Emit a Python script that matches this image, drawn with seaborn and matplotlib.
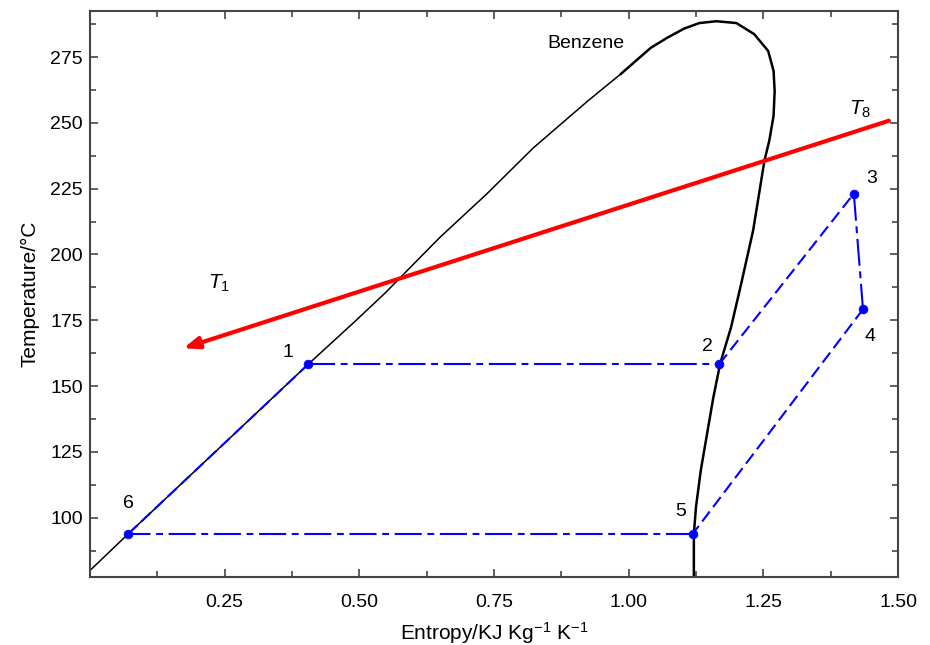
import matplotlib
matplotlib.use("Agg")
import matplotlib.pyplot as plt
import seaborn as sns
import pandas as pd
import numpy as np

# saturation dome of benzene
liquid_s = [0.0, 0.071, 0.405, 0.494, 0.547, 0.649, 0.737, 0.823, 0.924, 0.985]
liquid_t = [80.0, 93.9, 158.3, 175.0, 185.2, 206.4, 223.1, 240.5, 258.3, 268.5]
vapour_s = [0.985, 1.041, 1.073, 1.103, 1.131, 1.163, 1.200, 1.233, 1.259, 1.269,
            1.271, 1.269, 1.261, 1.252, 1.231, 1.209, 1.190, 1.170, 1.157, 1.134,
            1.125, 1.121, 1.121]
vapour_t = [268.5, 278.5, 282.5, 285.8, 287.9, 288.6, 287.9, 283.7, 277.3, 269.7,
            262.1, 252.7, 243.2, 235.6, 209.1, 189.0, 172.3, 158.7, 145.5, 118.2,
            104.2, 93.9, 77.7]

# cycle state points 1..6
state_labels = ["1", "2", "3", "4", "5", "6"]
state_s = [0.405, 1.168, 1.418, 1.435, 1.119, 0.071]
state_t = [158.3, 158.3, 223.1, 179.2, 93.9, 93.9]
# line style of the segment leaving each point (1-2, 2-3, ...)
segment_style = ["dashdot", "dashed", "dashdot", "dashed", "dashdot", "dashed"]

# heat source temperature line T8 -> T1
source_s = [1.483, 0.1735]
source_t = [250.8, 164.4]

sns.set_style("ticks")
plt.rcParams["font.family"] = ["Liberation Sans", "DejaVu Sans"]
plt.rcParams["mathtext.fontset"] = "custom"
plt.rcParams["mathtext.rm"] = "Liberation Sans"
plt.rcParams["mathtext.it"] = "Liberation Sans:italic"
plt.rcParams["text.color"] = "black"
plt.rcParams["axes.labelcolor"] = "black"
plt.rcParams["xtick.labelcolor"] = "black"
plt.rcParams["ytick.labelcolor"] = "black"

fig = plt.figure(figsize=(9.3, 6.45), dpi=100)
ax = fig.add_axes([0.0968, 0.1054, 0.8688, 0.8776])

sns.lineplot(x=liquid_s, y=liquid_t, sort=False, estimator=None, color="black", lw=1.1, ax=ax)
sns.lineplot(x=vapour_s, y=vapour_t, sort=False, estimator=None, color="black", lw=1.8, ax=ax)

dashes = {"dashdot": (0, (13, 2.7, 3.3, 2.7)), "dashed": (0, (6, 2.7))}
n = len(state_s)
for i in range(n):
    j = (i + 1) % n
    ax.plot([state_s[i], state_s[j]], [state_t[i], state_t[j]], color="blue", lw=1.5,
            linestyle=dashes[segment_style[i]])

cycle = pd.DataFrame({"s": state_s, "t": state_t, "label": state_labels})
sns.scatterplot(data=cycle, x="s", y="t", color="blue", s=40, edgecolor="blue", zorder=5, ax=ax)

label_offsets = {"1": (-0.037, 4.6), "2": (-0.021, 6.9), "3": (0.033, 5.7),
                 "4": (0.013, -10.3), "5": (-0.022, 8.4), "6": (0.0, 11.4)}
for lab, s, t in zip(state_labels, state_s, state_t):
    dx, dy = label_offsets[lab]
    ax.text(s + dx, t + dy, lab, fontsize=14, ha="center", va="center")

ax.annotate("", xy=(source_s[1], source_t[1]), xytext=(source_s[0], source_t[0]),
            arrowprops=dict(arrowstyle="-|>,head_length=0.9,head_width=0.35",
                            color="red", lw=3, shrinkA=0, shrinkB=0))

ax.text(0.92, 280.0, "Benzene", fontsize=14, ha="center", va="center")
ax.text(0.239, 189.0, r"$T_1$", fontsize=15, ha="center", va="center")
ax.text(1.429, 255.3, r"$T_8$", fontsize=15, ha="center", va="center")

ax.set_xlim(0.0, 1.5)
ax.set_ylim(77.5, 292.5)
ax.set_xticks([0.25, 0.50, 0.75, 1.00, 1.25, 1.50])
ax.set_xticklabels(["0.25", "0.50", "0.75", "1.00", "1.25", "1.50"])
ax.set_xticks(np.arange(0.125, 1.5, 0.25), minor=True)
ax.set_yticks([100, 125, 150, 175, 200, 225, 250, 275])
ax.set_yticks(np.arange(87.5, 292.5, 25), minor=True)
ax.tick_params(which="both", direction="in", top=True, right=True, labelsize=14,
               color="#444444", width=1.2)
ax.tick_params(which="major", length=6)
ax.tick_params(which="minor", length=4)
ax.tick_params(axis="x", which="major", pad=12)
ax.tick_params(axis="y", which="major", pad=5)
for sp in ax.spines.values():
    sp.set_visible(True)
    sp.set_color("#444444")
    sp.set_linewidth(1.5)

ax.set_xlabel("Entropy/KJ Kg$^{\u22121}$ K$^{\u22121}$", fontsize=15, labelpad=7)
ax.set_ylabel("Temperature/\u00b0C", fontsize=15, labelpad=8)

fig.savefig("out.png", dpi=100)
